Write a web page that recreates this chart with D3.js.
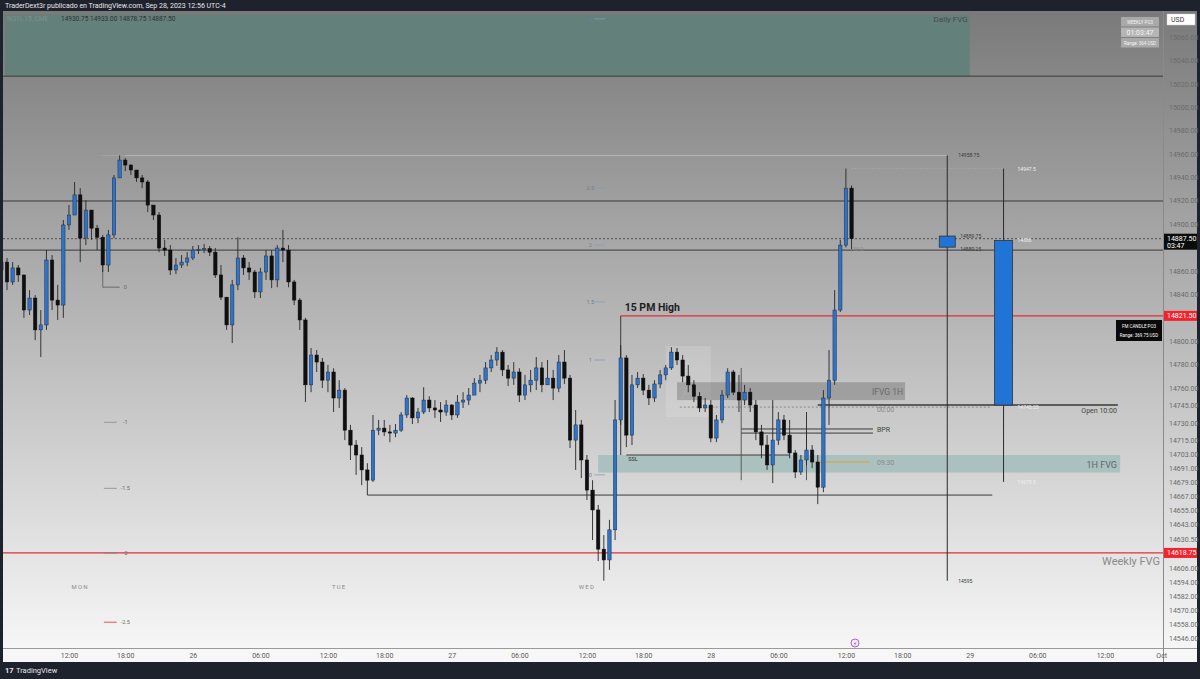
<!DOCTYPE html>
<html>
<head>
<meta charset="utf-8">
<script src="https://cdn.jsdelivr.net/npm/d3@7"></script>
<style>
    body { margin: 0; background: #1e222d; }
    svg text { font-family: Roboto, "DejaVu Sans", sans-serif; }
</style>
</head>
<body>
<div class="osvg"></div>
<script>
// 30 min bars, Mon 25 06:00 -> Thu 28 12:30 (open = previous close)
var firstOpen = 14860.75;
var closes = [
    14867.5, 14850.5, 14862.5, 14856.5, 14826.5, 14836.75, 14809.5, 14813.75, 14869.25, 14835,
    14830.75, 14899.25, 14907.75, 14925, 14888, 14912, 14896.5, 14888.75, 14865, 14890.75,
    14939.5, 14954.75, 14950.5, 14946.25, 14939.5, 14936, 14916.25, 14907.75, 14879.5, 14877.75,
    14860.75, 14865, 14867.5, 14871, 14877.75, 14878.5, 14879, 14876, 14856.5, 14837.5,
    14813.75, 14848, 14871, 14862.5, 14859, 14842, 14859, 14872.75, 14852.25, 14879.5,
    14877.75, 14850.5, 14835, 14818, 14762.5, 14788, 14782, 14766.5, 14773.5, 14751.25,
    14758, 14723.75, 14711, 14702.5, 14689.75, 14681, 14723.75, 14725.5, 14722.25, 14721.25,
    14723.75, 14736.75, 14751.25, 14734.25, 14739.25, 14749.5, 14742.75, 14741, 14739.25, 14745.25,
    14736.75, 14747.75, 14749.5, 14753.75, 14764, 14766.5, 14777, 14783.75, 14790.5, 14775.25,
    14768.25, 14773.5, 14753.75, 14762.5, 14766.5, 14777, 14762.5, 14768.25, 14759.75, 14782,
    14768.25, 14715.25, 14728.25, 14698.25, 14672.5, 14655.5, 14622, 14612.75, 14638.5, 14732.5,
    14785.5, 14719.5, 14762.5, 14768.25, 14758, 14751.25, 14763.25, 14771, 14777, 14790.5,
    14783.75, 14770, 14762.5, 14752.75, 14742.75, 14745.25, 14717, 14732.5, 14753.75, 14773.5,
    14756.25, 14749.5, 14756.25, 14745.25, 14722.25, 14711, 14694, 14715.25, 14732.5, 14719.5,
    14704.25, 14688, 14698.25, 14706.75, 14696.5, 14675, 14751.25, 14766.5, 14826.5, 14882,
    14930.75, 14887.5
];
var highs = [
    14873.5, 14871, 14867.5, 14865, 14854, 14843.5, 14839.25, 14826.5, 14877.75, 14873.5,
    14848, 14903.5, 14916.25, 14936, 14930.75, 14920.5, 14907.75, 14899.25, 14890.75, 14895,
    14942, 14958.75, 14956.5, 14951.25, 14946.25, 14942, 14937.75, 14916.25, 14910.25, 14886.5,
    14882, 14871, 14873.5, 14876, 14881.25, 14882, 14883, 14881.25, 14879.5, 14865,
    14836.25, 14852.25, 14888.75, 14873.5, 14867.5, 14860.75, 14862.5, 14877.75, 14877.75, 14882,
    14895, 14882, 14852.25, 14836.75, 14819.75, 14794, 14792.25, 14785.5, 14779.5, 14776.75,
    14766.5, 14759.75, 14728.25, 14715.25, 14709.25, 14695.5, 14736.75, 14732.5, 14732.5, 14728.25,
    14729, 14739.25, 14753.75, 14752, 14742.75, 14760.5, 14752.75, 14749.5, 14747.75, 14749.5,
    14746, 14753.75, 14756.25, 14759.75, 14768.25, 14771, 14782, 14788, 14794.75, 14792.25,
    14779.5, 14782, 14776.75, 14771, 14775.25, 14786.25, 14782, 14783.75, 14775.25, 14788,
    14792.25, 14771, 14741, 14732.5, 14702.5, 14681, 14659.75, 14634, 14647, 14749.5,
    14796.5, 14788, 14771, 14773.5, 14771.75, 14762.5, 14766.5, 14775.25, 14779.5, 14794.75,
    14794, 14788, 14779.5, 14766.5, 14756.25, 14751.25, 14749.5, 14736.75, 14758, 14776.75,
    14775.25, 14771, 14762.5, 14759.75, 14749.5, 14728.25, 14719.5, 14749.5, 14739.25, 14736.75,
    14732.5, 14706.75, 14702.5, 14739.25, 14711, 14702.5, 14758, 14792.25, 14843.5, 14886.5,
    14947.5, 14933
];
var lows = [
    14859, 14843.5, 14848, 14850.5, 14819.75, 14822.25, 14800.75, 14786.25, 14809.5, 14826.5,
    14818, 14819.75, 14895, 14907.75, 14867.5, 14882, 14886.5, 14877.75, 14859, 14859,
    14888, 14939.5, 14945.25, 14942, 14936, 14930.75, 14910.25, 14903.5, 14876, 14872.75,
    14856.5, 14857.25, 14862.5, 14864, 14869.25, 14874.5, 14875.25, 14872.75, 14854, 14835,
    14809.5, 14798.25, 14843.5, 14856.5, 14852.25, 14836.75, 14836.75, 14852.25, 14845.25, 14846,
    14867.5, 14846, 14830.75, 14809.5, 14747.75, 14756.25, 14773.5, 14759.75, 14756.25, 14739.25,
    14742.75, 14715.25, 14698.25, 14685.5, 14676.75, 14668.25, 14679.5, 14719.5, 14718.75, 14713.5,
    14717.75, 14722.25, 14734.25, 14729, 14729.75, 14737.5, 14739.25, 14734.25, 14730.75, 14736,
    14732.5, 14734.25, 14742.75, 14745.25, 14756.25, 14756.25, 14763.25, 14773.5, 14778.75, 14770,
    14761.5, 14762.5, 14747.75, 14749.5, 14756.25, 14758, 14756.25, 14762.5, 14749.5, 14756.25,
    14763.25, 14708.5, 14689.75, 14682.75, 14664, 14629.75, 14611.75, 14595, 14604.25, 14629.75,
    14728.25, 14709.25, 14711, 14759.75, 14753.75, 14745.25, 14747.75, 14759.75, 14766.5, 14775.25,
    14779.5, 14764.75, 14756.25, 14747.75, 14739.25, 14739.25, 14713.5, 14713.5, 14729.75, 14751.25,
    14753.75, 14739.25, 14745.25, 14739.25, 14715.25, 14699.75, 14689.75, 14678.5, 14711, 14715.25,
    14699.75, 14682.75, 14685.5, 14693.75, 14691.25, 14660.5, 14670.75, 14728.25, 14762.5, 14824.75,
    14880, 14878.75
];

// bar index of each time label (session break 17:00-18:00)
var timeTickIdx = [12, 22, 34, 46, 58, 68, 80, 92, 104, 114, 126, 138, 150, 160, 172, 184, 196, 206];
var timeTickLabels = ["12:00", "18:00", "26", "06:00", "12:00", "18:00", "27", "06:00", "12:00",
    "18:00", "28", "06:00", "12:00", "18:00", "29", "06:00", "12:00", "Oct"];
var priceTicks = [15060, 15040, 15020, 15000, 14980, 14960, 14940, 14920, 14900, 14860, 14840,
    14800, 14780, 14760, 14745, 14730, 14715, 14703, 14691, 14679, 14667, 14655, 14643, 14630.5,
    14606, 14594, 14582, 14570, 14558, 14546];

var lastPrice = 14887.5;
var darkLevels = [15026.5, 14919.75, 14877.75];
var dailyFvg = [15079, 15026.5];
var hourFvg = [14702.5, 14687.5];
var ifvg = [14764.75, 14749.5];
var rangeBox = [14795.75, 14735];
var pmHigh = 14821.5;
var weeklyFvg = 14618.75;
var monHigh = 14958.75;
var po3High = 14947.5;
var tueLow = 14668.25;
var sslLevel = 14702.5;
var open1000 = 14745.25;
var midnightOpen = 14743.5;
var bprLevels = [14724.75, 14721.25];
var open0930 = 14696.5;
var po3Candles = [
    { i: 168, o: 14880.25, h: 14958.75, l: 14595, c: 14889.75 },
    { i: 178, o: 14745.25, h: 14947.5, l: 14679.5, c: 14886 }
];
var fibLabels = ["0", "-1", "-1.5", "-2", "-2.5"];
var fibPrices = [14846, 14730.5, 14674, 14618.5, 14559.5];
var sdLabels = ["-4", "2.5", "2", "1.5", "1", "0"];
var sdPrices = [15075.5, 14931, 14882, 14833.5, 14783.75, 14685.5];
var dayNames = ["MON", "TUE", "WED"];
var dayIdx = [14, 60, 104];

var W = 1200, H = 679;
var plot = { left: 3, right: 1163, top: 11, bottom: 648 };

var x = d3.scaleLinear().domain([0, 206]).range([1.4, 1161.2]);
var y = d3.scaleLinear().domain([15060, 14546]).range([37, 638]);

var bars = closes.map(function (c, i) {
    return { i: i, o: i ? closes[i - 1] : firstOpen, h: highs[i], l: lows[i], c: c };
});

var svg = d3.select('.osvg').append('svg')
    .attr('width', W)
    .attr('height', H);

var defs = svg.append('defs');
defs.append('linearGradient')
    .attr('id', 'bg-grad')
    .attr('gradientUnits', 'userSpaceOnUse')
    .attr('x1', 0).attr('y1', plot.top)
    .attr('x2', 0).attr('y2', plot.bottom)
    .selectAll('stop')
    .data([
        { offset: '0%', color: '#7a7a7a' },
        { offset: '50%', color: '#b8b8b8' },
        { offset: '100%', color: '#f6f6f6' }
    ])
    .enter().append('stop')
    .attr('offset', function (d) { return d.offset; })
    .attr('stop-color', function (d) { return d.color; });

defs.append('clipPath').attr('id', 'plot-clip')
    .append('rect')
    .attr('x', plot.left).attr('y', plot.top)
    .attr('width', plot.right - plot.left).attr('height', plot.bottom - plot.top);

// frame + backgrounds
svg.append('rect').attr('width', W).attr('height', H).attr('fill', '#1e222d');
svg.append('rect')
    .attr('x', plot.left).attr('y', plot.top)
    .attr('width', 1197 - plot.left).attr('height', plot.bottom - plot.top)
    .attr('fill', 'url(#bg-grad)');
svg.append('rect')
    .attr('x', plot.left).attr('y', plot.bottom)
    .attr('width', 1197 - plot.left).attr('height', 14)
    .attr('fill', '#f7f7f7');
svg.append('line')
    .attr('x1', plot.left).attr('x2', 1197)
    .attr('y1', plot.bottom + 0.5).attr('y2', plot.bottom + 0.5)
    .attr('stroke', '#9a9a9a');
svg.append('line')
    .attr('x1', plot.right + 0.5).attr('x2', plot.right + 0.5)
    .attr('y1', plot.top).attr('y2', 662)
    .attr('stroke', '#8a8a8a');

var g = svg.append('g').attr('clip-path', 'url(#plot-clip)');

function hline(p, i0, i1, stroke, width, dash) {
    return g.append('line')
        .attr('x1', i0 == null ? plot.left : x(i0))
        .attr('x2', i1 == null ? plot.right : x(i1))
        .attr('y1', y(p)).attr('y2', y(p))
        .attr('stroke', stroke)
        .attr('stroke-width', width || 1)
        .attr('stroke-dasharray', dash || null);
}
function vline(i, p0, p1, stroke, width) {
    return g.append('line')
        .attr('x1', x(i)).attr('x2', x(i))
        .attr('y1', y(p0)).attr('y2', y(p1))
        .attr('stroke', stroke)
        .attr('stroke-width', width || 1);
}
function label(px, py, txt, size, color, anchor, weight) {
    return g.append('text')
        .attr('x', px).attr('y', py)
        .attr('font-size', size)
        .attr('fill', color)
        .attr('text-anchor', anchor || 'start')
        .attr('font-weight', weight || null)
        .text(txt);
}

// zones
g.append('rect')
    .attr('x', x(0.6)).attr('y', y(dailyFvg[0]))
    .attr('width', x(172) - x(0.6))
    .attr('height', y(dailyFvg[1]) - y(dailyFvg[0]))
    .attr('fill', '#62807a').attr('opacity', 0.92);
label(x(172) - 2, y(dailyFvg[0]) + 7, 'Daily FVG', 8, '#4a4a4a', 'end');

g.append('rect')
    .attr('x', x(106)).attr('y', y(hourFvg[0]))
    .attr('width', x(198.7) - x(106))
    .attr('height', y(hourFvg[1]) - y(hourFvg[0]))
    .attr('fill', '#8fb6b2').attr('opacity', 0.6);
label(x(198.5) - 2, y(hourFvg[1]) - 5, '1H FVG', 9, '#5a6a68', 'end');

g.append('rect')
    .attr('x', x(118)).attr('y', y(rangeBox[0]))
    .attr('width', x(126) - x(118))
    .attr('height', y(rangeBox[1]) - y(rangeBox[0]))
    .attr('fill', '#ffffff').attr('opacity', 0.14);
label(x(122), y(rangeBox[1]) - 18, 'A', 22, '#ffffff', 'middle').attr('opacity', 0.15);

g.append('rect')
    .attr('x', x(120)).attr('y', y(ifvg[0]))
    .attr('width', x(160.5) - x(120))
    .attr('height', y(ifvg[1]) - y(ifvg[0]))
    .attr('fill', '#5c5c5c').attr('opacity', 0.35);
label(x(160.5) - 2, y(ifvg[1]) - 5, 'IFVG 1H', 8.5, '#6a6a6a', 'end');

// horizontal levels
darkLevels.forEach(function (p) { hline(p, null, null, '#3a3a3a', 1); });
hline(lastPrice, null, null, '#3a3a3a', 0.8, '2,2');
hline(monHigh, 18, 168, '#dcdcdc', 0.7).attr('opacity', 0.7);
hline(po3High, 151, 178, '#d0d0d0', 0.6, '1,2').attr('opacity', 0.7);
hline(pmHigh, 110, null, '#e0303a', 1.2);
hline(weeklyFvg, null, null, '#e0303a', 1.2);
hline(tueLow, 65, 176, '#3a3a3a', 1);
hline(sslLevel, 111, 140, '#3a3a3a', 1);
hline(open1000, 145, 198.3, '#3a3a3a', 1.4);
hline(midnightOpen, 120.5, 175.6, '#7a7a7a', 0.8, '2,2');
bprLevels.forEach(function (p) { hline(p, 131.4, 154.8, '#3a3a3a', 1); });
hline(open0930, 144.5, 154.3, '#e0a030', 1);
hline(monHigh, 16, 22, '#9a9a9a', 0.8);

vline(110, pmHigh, sslLevel, '#3a3a3a', 1);
vline(18, 14877.75, fibPrices[0], '#555', 0.8);
hline(fibPrices[0], 18, 21, '#555', 0.8);
vline(131.4, 14777, 14681, '#5a5a5a', 1);
vline(143, 14723.5, 14681, '#5a5a5a', 1);

label(x(110) + 4, y(pmHigh) - 5, '15 PM High', 10.5, '#1e1e1e', 'start', 'bold');
label(x(111) + 2, y(sslLevel) + 6, 'SSL', 5.5, '#333');
label(x(198.3) - 1, y(open1000) + 8, 'Open 10:00', 7, '#444', 'end');
label(x(155.5), y(midnightOpen) + 5, '00:00', 7, '#8a8a8a');
label(x(155.5), y(bprLevels[0]) + 3, 'BPR', 7, '#444');
label(x(155.5), y(open0930) + 3, '09:30', 7, '#8a8a8a');
label(plot.right - 3, y(weeklyFvg) + 12, 'Weekly FVG', 11, '#8a8a8a', 'end');
label(x(151) + 2, y(14880) + 4, 'M.O.', 5.5, '#888');

// fib / std labels
fibPrices.forEach(function (p, k) {
    hline(p, 18.2, 20.5, k === fibPrices.length - 1 ? '#e0303a' : '#8a8a8a', 0.8);
    label(x(22), y(p) + 2, fibLabels[k], 5.5, '#6a6a6a', 'middle');
});
sdPrices.forEach(function (p, k) {
    hline(p, 105.3, 107.2, '#8a9ab5', 0.8);
    label(x(104.6), y(p) + 2, sdLabels[k], 5.5, '#6f7f9a', 'middle');
});
dayNames.forEach(function (d, k) {
    label(x(dayIdx[k]), y(14590) + 2, d, 6, '#8a8a8a', 'middle')
        .attr('letter-spacing', 1.2);
});

// candles
var bw = 3.4;
var cg = g.append('g').attr('class', 'candles');
cg.selectAll('line.wick')
    .data(bars)
    .enter().append('line')
    .attr('class', 'wick')
    .attr('x1', function (d) { return x(d.i); })
    .attr('x2', function (d) { return x(d.i); })
    .attr('y1', function (d) { return y(Math.max(d.h, d.o, d.c)); })
    .attr('y2', function (d) { return y(Math.min(d.l, d.o, d.c)); })
    .attr('stroke', '#262626')
    .attr('stroke-width', 0.9);
cg.selectAll('rect.body')
    .data(bars)
    .enter().append('rect')
    .attr('class', 'body')
    .attr('x', function (d) { return x(d.i) - bw / 2; })
    .attr('y', function (d) { return y(Math.max(d.o, d.c)); })
    .attr('width', bw)
    .attr('height', function (d) { return Math.max(1, Math.abs(y(d.o) - y(d.c))); })
    .attr('fill', function (d) { return d.c >= d.o ? '#2f73c9' : '#0f0f0f'; })
    .attr('stroke', function (d) { return d.c >= d.o ? '#1c2f48' : '#0f0f0f'; })
    .attr('stroke-width', 0.5);

// projected PO3 candles
var pw = [16, 18];
po3Candles.forEach(function (d, k) {
    vline(d.i, d.h, d.l, '#2a2a2a', 1);
    g.append('rect')
        .attr('x', x(d.i) - pw[k] / 2)
        .attr('y', y(Math.max(d.o, d.c)))
        .attr('width', pw[k])
        .attr('height', Math.abs(y(d.o) - y(d.c)))
        .attr('fill', '#1f74d6')
        .attr('stroke', '#333')
        .attr('stroke-width', 0.8);
    var lx = x(d.i) + pw[k] / 2 + 5;
    [[d.h, 0], [d.c, 0], [d.o, 6], [d.l, 0]].forEach(function (v) {
        var txt = String(v[0]);
        label(lx + (k === 0 && v[0] === d.h || k === 0 && v[0] === d.l ? -2 : 0),
            y(v[0]) + 2 + v[1] / 3, txt, 5, k === 0 ? '#3a3a3a' : '#f0f0f0');
    });
});

// axes
var yAxis = svg.append('g')
    .attr('transform', 'translate(' + plot.right + ',0)')
    .call(d3.axisRight(y).tickValues(priceTicks).tickFormat(d3.format('.2f')).tickSize(0).tickPadding(6));
yAxis.select('.domain').remove();
yAxis.selectAll('text').attr('font-size', 7).attr('fill', '#6a6a6a').attr('font-family', 'Roboto, sans-serif');

var xAxis = svg.append('g')
    .attr('transform', 'translate(0,' + plot.bottom + ')')
    .call(d3.axisBottom(x).tickValues(timeTickIdx)
        .tickFormat(function (d, k) { return timeTickLabels[k]; })
        .tickSize(0).tickPadding(5));
xAxis.select('.domain').remove();
xAxis.selectAll('text').attr('font-size', 7).attr('fill', '#5a5a5a').attr('font-family', 'Roboto, sans-serif');

// price tags on axis
function tag(p, txt, bg, sub) {
    var yy = y(p);
    svg.append('rect')
        .attr('x', plot.right + 1).attr('y', yy - 5)
        .attr('width', 33).attr('height', sub ? 16 : 10)
        .attr('fill', bg);
    svg.append('text')
        .attr('x', plot.right + 4).attr('y', yy + 2.5)
        .attr('font-size', 7).attr('fill', '#fff')
        .text(txt);
    if (sub) {
        svg.append('text')
            .attr('x', plot.right + 4).attr('y', yy + 9.5)
            .attr('font-size', 7).attr('fill', '#fff')
            .text(sub);
    }
}
tag(lastPrice, d3.format('.2f')(lastPrice), '#0c0c0c', '03:47');
tag(pmHigh, d3.format('.2f')(pmHigh), '#f2232d');
tag(weeklyFvg, d3.format('.2f')(weeklyFvg), '#f2232d');

// USD box
svg.append('rect').attr('x', 1167).attr('y', 14).attr('width', 28).attr('height', 11)
    .attr('fill', '#ffffff').attr('stroke', '#cfcfcf').attr('stroke-width', 0.5);
svg.append('text').attr('x', 1171).attr('y', 22).attr('font-size', 7).attr('fill', '#333').text('USD');

// info boxes
var infoRows = ['WEEKLY PO3', '01:03:47', 'Range: 364 USD'];
infoRows.forEach(function (t, k) {
    svg.append('rect').attr('x', 1121).attr('y', 17 + k * 10.5).attr('width', 38).attr('height', 9.5)
        .attr('fill', k === 1 ? '#b5b5b5' : '#a9a9a9');
    svg.append('text').attr('x', 1140).attr('y', 24 + k * 10.5).attr('text-anchor', 'middle')
        .attr('font-size', k === 1 ? 7 : 4.5).attr('fill', '#f4f4f4').text(t);
});
svg.append('rect').attr('x', 1116).attr('y', 320).attr('width', 46).attr('height', 21).attr('fill', '#0a0a0a');
svg.append('text').attr('x', 1139).attr('y', 328).attr('text-anchor', 'middle')
    .attr('font-size', 4.5).attr('fill', '#fff').text('FM CANDLE PO3');
svg.append('text').attr('x', 1139).attr('y', 337).attr('text-anchor', 'middle')
    .attr('font-size', 4.5).attr('fill', '#fff').text('Range: 369.75 USD');

// header
svg.append('text').attr('x', 5).attr('y', 8).attr('font-size', 7).attr('fill', '#e8e8e8')
    .text('TraderDext3r publicado en TradingView.com, Sep 28, 2023 12:56 UTC-4');
svg.append('text').attr('x', 7).attr('y', 21).attr('font-size', 6.5).attr('fill', '#7c918d')
    .text('NQ1!, 15, CME');
var ohlc = [14930.75, 14933.00, 14878.75, 14887.50];
ohlc.forEach(function (v, k) {
    svg.append('text').attr('x', 61 + k * 29).attr('y', 21).attr('font-size', 6.5).attr('fill', '#2c3331')
        .text(d3.format('.2f')(v));
});

// event marker
svg.append('circle').attr('cx', 855).attr('cy', 643).attr('r', 4)
    .attr('fill', '#f4eef6').attr('stroke', '#a13cc0').attr('stroke-width', 0.8);
svg.append('text').attr('x', 855).attr('y', 645.5).attr('text-anchor', 'middle')
    .attr('font-size', 6).attr('fill', '#a13cc0').text('⚡');

// footer logo
svg.append('text').attr('x', 5).attr('y', 673).attr('font-size', 7.5).attr('font-weight', 'bold')
    .attr('fill', '#e8e8e8').text('17');
svg.append('text').attr('x', 16).attr('y', 673).attr('font-size', 7.5)
    .attr('fill', '#e8e8e8').text('TradingView');
</script>
</body>
</html>
